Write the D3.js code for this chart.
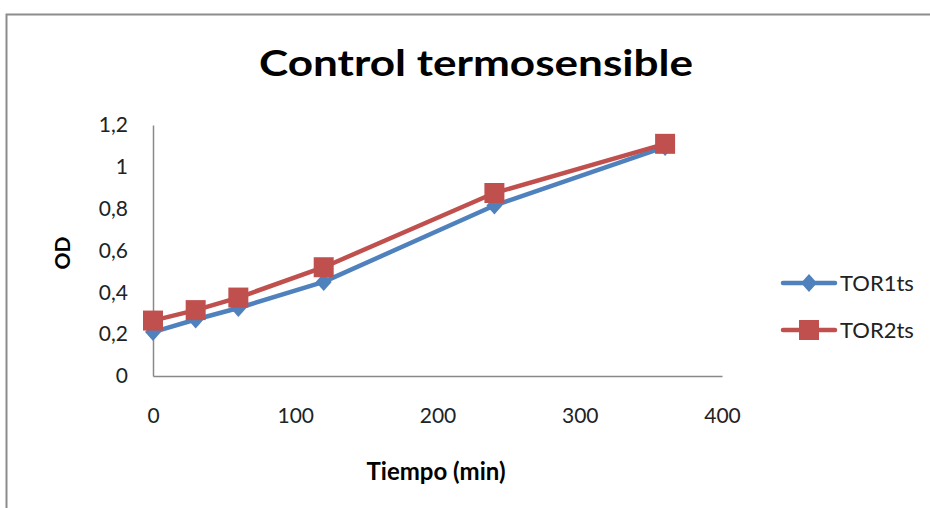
<!DOCTYPE html>
<html><head><meta charset="utf-8">
<script src="https://cdn.jsdelivr.net/npm/d3@7"></script>
<style>body{margin:0;background:#fff}svg{display:block}</style>
</head><body><svg id="c" width="930" height="508"></svg>
<script>
const times = [0, 30, 60, 120, 240, 360];
const tor1 = [0.21, 0.27, 0.325, 0.45, 0.815, 1.095];
const tor2 = [0.265, 0.315, 0.375, 0.52, 0.875, 1.11];
const seriesNames = ["TOR1ts", "TOR2ts"];
const colors = ["#4F81BD", "#C0504D"];
const xTicks = [0, 100, 200, 300, 400];
const yTicks = [0, 0.2, 0.4, 0.6, 0.8, 1, 1.2];

const svg = d3.select("#c");
const font = "Lato, 'Open Sans', sans-serif";
// outer border
svg.append("path").attr("d","M6.5,520 V14.5 H940").attr("fill","none").attr("stroke","#8c8c8c").attr("stroke-width",2);

const x = d3.scaleLinear().domain([0,400]).range([153,722]);
const y = d3.scaleLinear().domain([0,1.2]).range([376,125]);
const fmt = d => d3.format(".1f")(d).replace(".0","").replace(".",",");

// axes
const gy = svg.append("g").attr("transform","translate(153,0)")
  .call(d3.axisLeft(y).tickValues(yTicks).tickSize(0).tickPadding(25).tickFormat(fmt));
const gx = svg.append("g").attr("transform","translate(0,376)")
  .call(d3.axisBottom(x).tickValues(xTicks).tickSize(0).tickPadding(32).tickFormat(d3.format("d")));
[gx, gy].forEach(g => {
  g.select(".domain").attr("stroke","#898989").attr("stroke-width",1.5);
  g.selectAll("text").attr("font-family",font).attr("font-size",21).attr("fill","#222");
});

// title and axis labels
svg.append("text").attr("x",476).attr("y",76).attr("text-anchor","middle")
  .attr("font-family",font).attr("font-weight","bold").attr("font-size",37).attr("fill","#000")
  .attr("textLength",434).attr("lengthAdjust","spacingAndGlyphs")
  .text("Control termosensible");
svg.append("text").attr("transform","translate(70,253) rotate(-90)").attr("text-anchor","middle")
  .attr("font-family",font).attr("font-weight","bold").attr("font-size",21).text("OD");
svg.append("text").attr("x",436).attr("y",480).attr("text-anchor","middle")
  .attr("font-family",font).attr("font-weight","bold").attr("font-size",24).text("Tiempo (min)");

const series = [tor1, tor2];
const line = d3.line().x(d => x(d[0])).y(d => y(d[1]));
const diamond = "M0,-9 L8,0 L0,9 L-8,0 Z";
const square = "M-10,-10 H10 V10 H-10 Z";
const shapes = [diamond, square];

series.forEach((vals, i) => {
  const pts = times.map((t, j) => [t, vals[j]]);
  svg.append("path").datum(pts).attr("d", line).attr("fill","none")
    .attr("stroke", colors[i]).attr("stroke-width",4.5).attr("stroke-linejoin","round");
  svg.append("g").selectAll("path").data(pts).join("path")
    .attr("d", shapes[i]).attr("transform", d => `translate(${x(d[0])},${y(d[1])})`)
    .attr("fill", colors[i]);
});

// legend
seriesNames.forEach((n, i) => {
  const ly = 283 + i * 47;
  const g = svg.append("g");
  g.append("line").attr("x1",783).attr("x2",835).attr("y1",ly).attr("y2",ly)
    .attr("stroke",colors[i]).attr("stroke-width",4.5).attr("stroke-linecap","round");
  g.append("path").attr("d",shapes[i]).attr("transform",`translate(809,${ly})`).attr("fill",colors[i]);
  g.append("text").attr("x",840).attr("y",ly+8).attr("font-family",font).attr("font-size",22)
    .attr("fill","#222").text(n);
});
</script></body></html>
